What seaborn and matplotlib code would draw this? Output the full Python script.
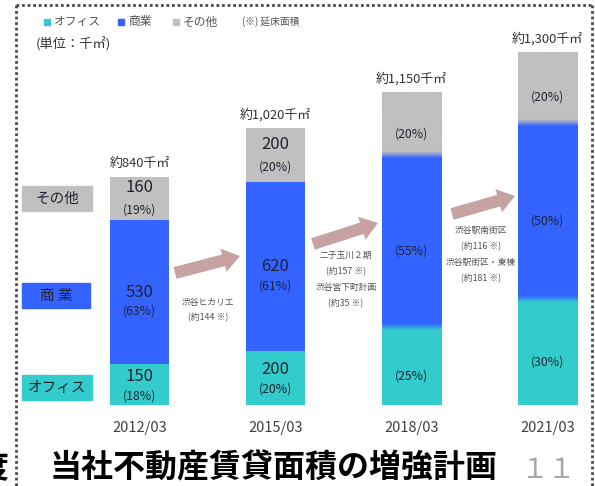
import matplotlib
matplotlib.use("Agg")
import matplotlib.pyplot as plt
import matplotlib.colors as mcolors
from matplotlib.patches import Rectangle, FancyArrow
import numpy as np
import pandas as pd
import seaborn as sns

sns.set_style("white")
plt.rcParams["font.family"] = ["Noto Sans CJK JP", "DejaVu Sans"]

TEAL, BLUE, GRAY = "#33CCCC", "#3463FF", "#C0C0C0"
INK = "#1f2430"

# data
periods = ["2012/03", "2015/03", "2018/03", "2021/03"]
totals = [840, 1020, 1150, 1300]
office_share = [18, 20, 25, 30]
retail_share = [63, 61, 55, 50]
other_share = [19, 20, 20, 20]
office_area = [150, 200, None, None]
retail_area = [530, 620, None, None]
other_area = [160, 200, None, None]
blended = [False, False, True, True]   # later bars are drawn with soft colour blends

arrow_notes = [
    ["渋谷ヒカリエ", "(約144 ※)"],
    ["二子玉川２期", "(約157 ※)", "渋谷宮下町計画", "(約35 ※)"],
    ["渋谷駅南街区", "(約116 ※)", "渋谷駅街区・東棟", "(約181 ※)"],
]

df = pd.DataFrame({"period": periods, "total": totals})
df["office"] = [a if a is not None else t * s / 100
                for a, t, s in zip(office_area, totals, office_share)]
df["retail"] = [a if a is not None else t * s / 100
                for a, t, s in zip(retail_area, totals, retail_share)]
df["other"] = df["total"] - df["office"] - df["retail"]
df["retail_top"] = df["office"] + df["retail"]

W, H = 595, 486
fig = plt.figure(figsize=(W / 100, H / 100), dpi=100)
ax = fig.add_axes([20 / W, (H - 405) / H, 565 / W, 385 / H])

# layered stacked bars
for col, color in [("total", GRAY), ("retail_top", BLUE), ("office", TEAL)]:
    sns.barplot(data=df, x="period", y=col, color=color, width=0.435,
                saturation=1, errorbar=None, linewidth=0, ax=ax)

# soft blends for planned years
for i, row in df.iterrows():
    if not blended[i]:
        continue
    p = ax.patches[i]
    x0, x1 = p.get_x(), p.get_x() + p.get_width()
    ys = np.linspace(0, row["total"], 500)
    blur = 26.0
    s1 = np.clip((ys - row["office"]) / blur + 0.5, 0, 1)[:, None]
    s2 = np.clip((ys - row["retail_top"]) / blur + 0.5, 0, 1)[:, None]
    c_t, c_b, c_g = (np.array(mcolors.to_rgb(c)) for c in (TEAL, BLUE, GRAY))
    img = c_t * (1 - s1) + c_b * (s1 - s2) + c_g * s2
    ax.imshow(img[:, None, :], origin="lower", extent=(x0, x1, 0, row["total"]),
              aspect="auto", interpolation="bilinear", zorder=3)

px = 0.72  # pixels -> points


def seg_label(x, y, num, pct, dy_num, dy_pct):
    if num is not None:
        ax.annotate(f"{num:.0f}", (x, y), xytext=(0, dy_num * px), textcoords="offset points",
                    ha="center", va="center", fontsize=12, color=INK, zorder=5)
    ax.annotate(f"({pct}%)", (x, y), xytext=(0, dy_pct * px), textcoords="offset points",
                ha="center", va="center", fontsize=8.8, color=INK, zorder=5)


for i, row in df.iterrows():
    segs = [
        (row["office"] / 2, office_area[i], office_share[i], 8, -11),
        (row["office"] + row["retail"] / 2, retail_area[i], retail_share[i], 0, -19),
        (row["retail_top"] + row["other"] / 2, other_area[i], other_share[i], 11, -11.5),
    ]
    for mid, num, pct, dn, dp in segs:
        if blended[i]:
            seg_label(i, mid, None, pct, 0, -10)
        else:
            seg_label(i, mid, num, pct, dn, dp)
    ax.annotate(f"約{row['total']:,}千㎡", (i, row["total"]), xytext=(0, 5),
                textcoords="offset points", ha="center", va="bottom",
                fontsize=9.3, color="#333333")

ax.set_xlim(-(139.5 - 20) / 136, (585 - 139.5) / 136)
ax.set_ylim(0, 385 / 0.2714)
ax.set_xlabel("")
ax.set_ylabel("")
ax.set_yticks([])
ax.tick_params(axis="x", length=0, pad=11.5, labelsize=10.5, labelcolor="#404040")
sns.despine(ax=ax, left=True, bottom=True)
ax.patch.set_alpha(0)

# overlay in pixel coordinates for legend, notes, arrows and frame
ov = fig.add_axes([0, 0, 1, 1], zorder=-1)
ov.set_xlim(0, W)
ov.set_ylim(H, 0)
ov.axis("off")

dot = dict(color="#4a4a4a", linewidth=2, linestyle=(0, (1, 1)))
ov.plot([16, 16], [5, H], **dot)
ov.plot([16, 592], [5, 5], **dot)
ov.plot([592, 592], [5, H], **dot)

legend_items = [(TEAL, "オフィス", 44), (BLUE, "商業", 118), (GRAY, "その他", 173)]
for color, label, x in legend_items:
    ov.add_patch(Rectangle((x, 19), 6, 6, color=color))
    ov.text(x + 10, 22, label, fontsize=8.5, color="#555555", va="center")
ov.text(242, 22, "(※) 延床面積", fontsize=7, color="#555555", va="center")
ov.text(36, 44, "(単位：千㎡)", fontsize=9.5, color="#333333", va="center")

cat_boxes = [(GRAY, "その他", 186, 70), (BLUE, "商 業", 283, 68), (TEAL, "オフィス", 375, 70)]
for color, label, y, w in cat_boxes:
    ov.add_patch(Rectangle((22, y), w, 25, color=color))
    ov.text(22 + w / 2, y + 12.5, label, fontsize=10.5, color=INK, ha="center", va="center")

arrows = [((175, 273), (240, 256)), ((313, 244), (378, 223)), ((452, 214), (515, 196))]
for (x0, y0), (x1, y1) in arrows:
    ov.add_patch(FancyArrow(x0, y0, x1 - x0, y1 - y0, width=12, head_width=24,
                            head_length=17, length_includes_head=True,
                            color="#C6A2A2", linewidth=0))

note_pos = [(208, 302, 16), (346, 255, 16.3), (481, 230, 16.3)]
for (x, y, step), lines in zip(note_pos, arrow_notes):
    for k, line in enumerate(lines):
        ov.text(x, y + k * step, line, fontsize=6.3, color="#505050", ha="center", va="center")

fig.text(50 / W, 1 - 468 / H, "当社不動産賃貸面積の増強計画", fontsize=23,
         fontweight="bold", color="black", va="center", ha="left")
fig.text(548 / W, 1 - 470 / H, "１１", fontsize=20, color="#A6A6A6", va="center", ha="center")
# right-hand sliver of a glyph from the neighbouring slide, as in the reference
fig.text(8 / W, 1 - 468 / H, "度", fontsize=23, fontweight="bold", color="black",
         va="center", ha="right")

fig.savefig("out.png", dpi=100)
plt.close(fig)
